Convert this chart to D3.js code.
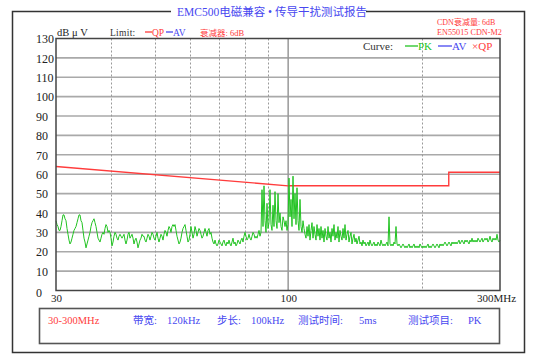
<!DOCTYPE html>
<html><head><meta charset="utf-8">
<script src="https://cdn.jsdelivr.net/npm/d3@7"></script>
<style>body{margin:0;background:#fff} svg{display:block}</style>
</head><body>
<svg id="c" width="535" height="360"></svg>
<script>
// ---------------- data ----------------
const yTickValues = [0,10,20,30,40,50,60,70,80,90,100,110,120,130];
const xTickValues = [30,100,300];
const xTickText = ["30","100","300MHz"];
const xGridDotted = [40,50,60,70,80,90,200];
const xGridSolid = [100];
const freqStart = 30, freqEnd = 300;
// QP limit line (MHz, dBµV)
const qpFreqs  = [30, 100, 230, 230, 300];
const qpLevels = [64, 54, 54, 61, 61];
// PK sweep, evenly spaced on the log frequency axis 30 -> 300 MHz
const pkValues = [
36,34,33,31,31,33,36,39,39,37,
36,32,29,26,24,25,27,29,31,32,
33,35,37,39,39,36,35,31,27,25,
22,24,26,28,30,33,35,36,37,35,
33,30,27,26,25,27,29,30,29,32,
34,33,30,31,30,27,23,25,28,30,
29,27,26,28,29,28,27,28,29,26,
24,26,29,30,27,28,29,27,24,26,
27,25,22,24,26,27,29,28,28,26,
25,27,29,28,26,28,30,29,27,26,
28,30,27,25,27,29,28,26,29,31,
30,28,31,33,32,30,33,34,33,34,
31,28,26,24,25,27,30,32,33,34,
31,28,25,26,29,33,30,27,29,33,
31,28,30,32,31,29,27,28,30,32,
30,28,31,32,29,30,27,25,24,26,
24,23,24,26,25,24,23,25,26,24,
23,25,24,26,24,23,25,27,24,25,
23,24,26,25,24,26,27,25,28,30,
28,26,27,29,27,26,28,30,29,27,
28,27,29,31,28,30,52,33,54,36,
30,45,32,35,52,34,31,44,33,51,
36,32,50,35,40,33,31,38,36,33,
36,31,34,58,38,47,33,59,37,50,
34,53,36,31,47,33,30,36,32,29,
27,33,28,34,26,31,35,27,33,29,
26,34,28,32,26,33,27,31,25,32,
28,26,33,27,30,25,32,28,34,26,
30,27,33,25,31,28,26,32,27,34,
26,29,31,25,28,30,24,27,29,25,
27,24,26,28,24,25,23,26,24,25,
23,24,25,23,26,24,23,24,25,23,
24,23,25,24,23,26,24,23,24,23,
24,25,23,38,24,23,24,23,25,24,
33,24,23,24,23,22,23,24,23,22,
23,22,23,24,22,23,22,23,24,22,
23,22,23,22,24,23,22,23,22,23,
22,23,24,22,23,22,23,24,23,22,
23,24,23,22,24,23,24,23,24,25,
24,23,24,25,24,23,25,24,25,24,
25,24,25,26,24,25,26,25,24,26,
25,26,25,24,26,25,27,25,26,25,
26,25,27,26,25,26,27,25,26,27,
26,27,25,26,28,26,25,27,26,27,
26,29,26,25,26
];
// ---------------- drawing ----------------
const svg = d3.select("#c");
const L = 56, R = 500, T = 38.5, B = 290.5;
const x = d3.scaleLog().domain([freqStart, freqEnd]).range([L, R]);
const y = d3.scaleLinear().domain([0, 130]).range([B, T]);
const serif = "'Liberation Serif','Noto Sans CJK SC',serif";
const BLUE = "#4848f0", RED = "#ff3c3c", GREEN = "#22c322";

// outer frame with gap for title
svg.append("path").attr("d","M171,11.5H12.5V352.5H524.5V11.5H366")
  .attr("fill","none").attr("stroke","#333").attr("stroke-width",1.5);
svg.append("text").attr("x",177).attr("y",15.5).attr("font-family",serif)
  .attr("font-size",11.5).attr("fill",BLUE).text("EMC500电磁兼容 • 传导干扰测试报告");

// horizontal grid
svg.append("g").selectAll("line").data(yTickValues.filter(d=>d>0&&d<130)).join("line")
  .attr("x1",L).attr("x2",R).attr("y1",d=>y(d)).attr("y2",d=>y(d))
  .attr("stroke","#a9a9a9").attr("stroke-width",1.6);
// vertical grid
svg.append("g").selectAll("line").data(xGridDotted).join("line")
  .attr("x1",d=>Math.round(x(d))+0.5).attr("x2",d=>Math.round(x(d))+0.5).attr("y1",T).attr("y2",B)
  .attr("stroke","#999").attr("stroke-width",1).attr("stroke-dasharray","2,2");
svg.append("g").selectAll("line").data(xGridSolid).join("line")
  .attr("x1",d=>x(d)).attr("x2",d=>x(d)).attr("y1",T).attr("y2",B)
  .attr("stroke","#999").attr("stroke-width",1.5);

// limit line QP
const qpLine = d3.line().x(d=>x(d[0])).y(d=>y(d[1]));
svg.append("path").datum(qpFreqs.map((f,i)=>[f,qpLevels[i]]))
  .attr("d",qpLine).attr("fill","none").attr("stroke",RED).attr("stroke-width",1.4);

// PK trace
const n = pkValues.length;
const pkLine = d3.line()
  .x((d,i)=>x(freqStart*Math.pow(freqEnd/freqStart, i/(n-1))))
  .y(d=>y(d));
svg.append("path").datum(pkValues).attr("d",pkLine).attr("fill","none")
  .attr("stroke",GREEN).attr("stroke-width",1);

// plot border
svg.append("rect").attr("x",L).attr("y",T).attr("width",R-L).attr("height",B-T)
  .attr("fill","none").attr("stroke","#444").attr("stroke-width",1.5);

// y axis labels
const ya = svg.append("g").attr("transform",`translate(${L},0)`)
  .call(d3.axisLeft(y).tickValues(yTickValues).tickSize(0).tickFormat(d3.format("d")));
ya.select(".domain").remove();
ya.selectAll("text").attr("x",-20).attr("text-anchor","start").attr("dy","0.35em")
  .attr("font-family",serif).attr("font-size",12).attr("fill","#222");
ya.selectAll(".tick").filter(d=>d===0).select("text").attr("dy","0.5em");

// x axis labels
const xa = svg.append("g").attr("transform",`translate(0,${B})`)
  .call(d3.axisBottom(x).tickValues(xTickValues).tickSize(0).tickFormat((d,i)=>xTickText[i]));
xa.select(".domain").remove();
xa.selectAll("text").attr("y",4).attr("dy","0.71em")
  .attr("font-family",serif).attr("font-size",11).attr("fill","#222");
xa.selectAll(".tick").filter(d=>d===300).select("text").attr("dx",-4);

// header texts
function txt(xp, yp, s, col, size){
  return svg.append("text").attr("x",xp).attr("y",yp).attr("font-family",serif)
    .attr("font-size",size).attr("fill",col).text(s);
}
txt(57,35.5,"dB μ V","#222",10.5);
txt(110,35.5,"Limit:","#333",9.5).attr("letter-spacing",0.3);
svg.append("line").attr("x1",145).attr("x2",152).attr("y1",32).attr("y2",32).attr("stroke",RED).attr("stroke-width",1.3);
txt(152,35.5,"QP",RED,9.5);
svg.append("line").attr("x1",166).attr("x2",173).attr("y1",32).attr("y2",32).attr("stroke",BLUE).attr("stroke-width",1.3);
txt(173,35.5,"AV",BLUE,9.5);
txt(200,35.5,"衰减器: 6dB",RED,8.5);
txt(437,25,"CDN衰减量: 6dB",RED,8);
txt(437,35,"EN55015 CDN-M2",RED,8.2);

// curve legend
txt(363,50,"Curve:","#333",11);
svg.append("line").attr("x1",405).attr("x2",418).attr("y1",46).attr("y2",46).attr("stroke",GREEN).attr("stroke-width",1.3);
txt(418,50,"PK",GREEN,11);
svg.append("line").attr("x1",438).attr("x2",452).attr("y1",46).attr("y2",46).attr("stroke",BLUE).attr("stroke-width",1.3);
txt(452,50,"AV",BLUE,11);
txt(472,50,"×QP",RED,11);

// info box
svg.append("rect").attr("x",39.5).attr("y",308.5).attr("width",460).attr("height",35)
  .attr("fill","none").attr("stroke","#555").attr("stroke-width",1.6);
txt(48,324,"30-300MHz",RED,10.5);
txt(133,324,"带宽:",BLUE,10.5);
txt(167,324,"120kHz",BLUE,10.5);
txt(217,324,"步长:",BLUE,10.5);
txt(251,324,"100kHz",BLUE,10.5);
txt(298,324,"测试时间:",BLUE,10.5);
txt(359,324,"5ms",BLUE,10.5);
txt(408,324,"测试项目:",BLUE,10.5);
txt(468,324,"PK",BLUE,10.5);
</script>
</body></html>
